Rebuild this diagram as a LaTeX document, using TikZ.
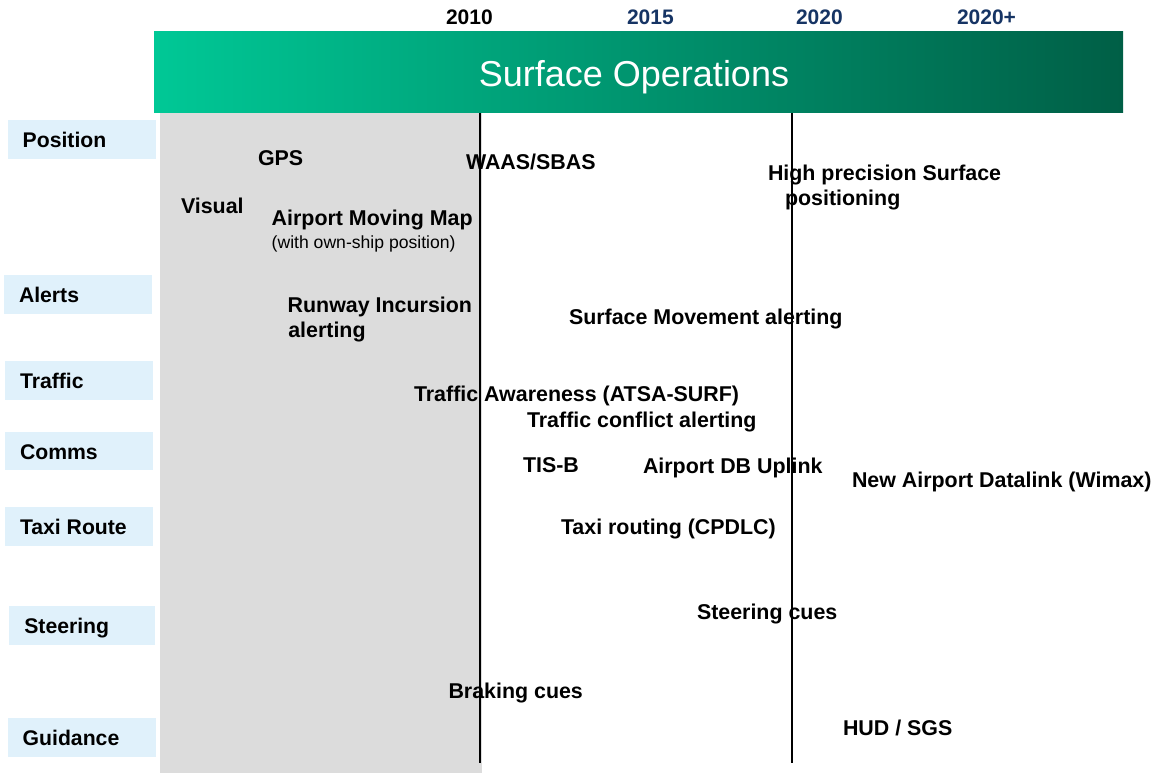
\documentclass[tikz,border=0pt]{standalone}
\usepackage{fontspec}
\setmainfont{Liberation Sans}
\begin{document}
\begin{tikzpicture}[x=1pt,y=-1pt,
  item/.style={anchor=base west,inner sep=0pt,outer sep=0pt,font=\bfseries\fontsize{21.4}{25}\selectfont},
  sub/.style={anchor=base west,inner sep=0pt,outer sep=0pt,font=\fontsize{17.6}{21}\selectfont},
  cat/.style={anchor=base west,inner sep=0pt,outer sep=0pt,font=\bfseries\fontsize{21.2}{25}\selectfont},
  year/.style={anchor=base west,inner sep=0pt,outer sep=0pt,font=\bfseries\fontsize{21}{25}\selectfont,text=yearblue},
  vline/.style={line width=2pt,black}]
\definecolor{lblue}{RGB}{224,241,251}
\definecolor{grayzone}{RGB}{220,220,220}
\definecolor{yearblue}{RGB}{22,52,100}
\definecolor{gleft}{RGB}{0,200,150}
\definecolor{gmid}{RGB}{0,170,128}
\definecolor{gright}{RGB}{0,95,70}
\useasboundingbox (0,0) rectangle (1156,773);
% gray zone
\fill[grayzone] (160,113) rectangle (481.5,773);
% header
\shade[left color=gleft,middle color=gmid,right color=gright] (154,32) rectangle (1123,113);
\node[anchor=base,inner sep=0pt,text=white,font=\fontsize{36}{40}\selectfont] (title) at (634,87) {Surface Operations};
% years
\node[year,text=black] (y2010) at (446,25) {2010};
\node[year] (y2015) at (627,25) {2015};
\node[year] (y2020) at (796,25) {2020};
\node[year] (y2020p) at (957,25) {2020+};
% vertical lines
\coordinate (l1t) at (480,113); \coordinate (l1b) at (480,763);
\coordinate (l2t) at (792,113); \coordinate (l2b) at (792,763);
\draw[vline] (l1t) -- (l1b);
\draw[vline] (l2t) -- (l2b);
% category boxes
\fill[lblue] (8,120) rectangle (155.5,159);
\fill[lblue] (4,275) rectangle (152,314);
\fill[lblue] (5,361) rectangle (153,400);
\fill[lblue] (5,432) rectangle (153,470);
\fill[lblue] (5,507) rectangle (153,546);
\fill[lblue] (9,606) rectangle (155,645);
\fill[lblue] (8,718) rectangle (156,757);
\node[cat] (cpos) at (22.7,147) {Position};
\node[cat] (calt) at (19,302) {Alerts};
\node[cat] (ctra) at (20,388) {Traffic};
\node[cat] (ccom) at (20,459) {Comms};
\node[cat] (ctax) at (20,534) {Taxi Route};
\node[cat] (cste) at (24.3,633) {Steering};
\node[cat] (cgui) at (22.7,745) {Guidance};
% items
\node[item] (gps) at (258,165) {GPS};
\node[item] (waas) at (466,169) {WAAS/SBAS};
\node[item] (hp1) at (768,180) {High precision Surface};
\node[item] (hp2) at (785,205) {positioning};
\node[item] (vis) at (181,213) {Visual};
\node[item] (amm) at (271.7,225) {Airport Moving Map};
\node[sub] (amm2) at (271.7,248) {(with own-ship position)};
\node[item] (ri1) at (287.7,312) {Runway Incursion};
\node[item] (ri2) at (288.3,337) {alerting};
\node[item] (sma) at (569,324) {Surface Movement alerting};
\node[item] (ta) at (414,401) {Traffic Awareness (ATSA-SURF)};
\node[item] (tca) at (527,427) {Traffic conflict alerting};
\node[item] (tisb) at (523,472) {TIS-B};
\node[item] (adb) at (643,473.5) {Airport DB Uplink};
\node[item] (nad) at (852,487) {New Airport Datalink (Wimax)};
\node[item] (txr) at (561,534) {Taxi routing (CPDLC)};
\node[item] (stc) at (697,619) {Steering cues};
\node[item] (brk) at (448.5,698) {Braking cues};
\node[item] (hud) at (843,735) {HUD / SGS};
\end{tikzpicture}
\end{document}
